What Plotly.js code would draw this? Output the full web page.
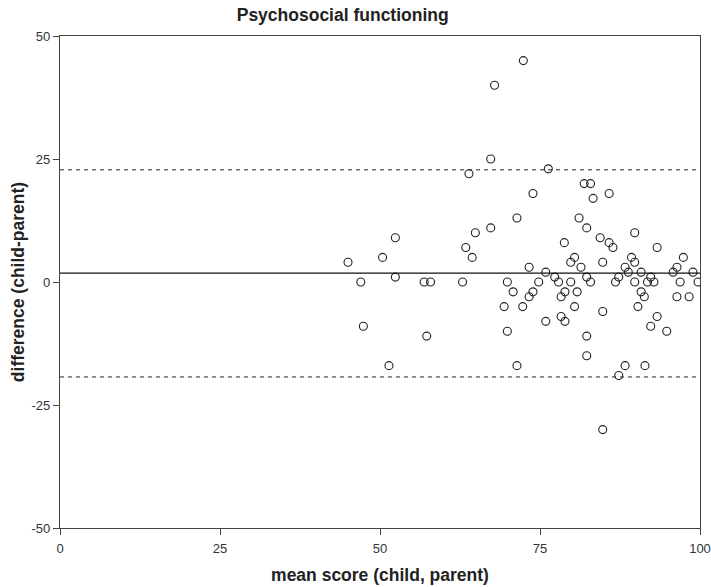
<!DOCTYPE html>
<html>
<head>
<meta charset="utf-8">
<script src="https://cdn.plot.ly/plotly-3.0.1.min.js"></script>
<style>html,body{margin:0;padding:0;background:#fff;}#chart{width:711px;height:587px;}</style>
</head>
<body>
<div id="chart"></div>
<script>
// mean score (child, parent)
const meanScore = [
  45, 47, 47.4, 50.4, 52.4, 52.4, 51.4, 56.9, 57.9, 57.3,
  62.9, 63.4, 63.9, 64.4, 64.9, 67.3, 67.3, 67.9, 72.4, 71.4,
  73.9, 76.3, 69.9, 70.8, 69.4, 69.9, 71.4, 72.3, 73.3, 73.9,
  73.3, 74.8, 75.9, 75.9, 77.3, 77.9, 78.8, 79.8, 80.4, 79.8,
  78.9, 78.3, 80.4, 78.3, 78.9, 80.8, 81.1, 81.4, 81.9, 82.9,
  83.3, 85.8, 82.3, 84.4, 85.8, 86.4, 89.8, 93.3, 84.8, 89.3,
  89.8, 88.3, 88.8, 87.3, 86.8, 90.8, 89.8, 92.3, 91.8, 92.8,
  97.4, 96.4, 95.8, 98.9, 96.9, 99.7, 82.3, 82.9, 84.8, 90.8,
  91.3, 90.3, 93.3, 92.3, 94.8, 96.4, 98.3, 82.3, 82.3, 88.3,
  91.4, 87.3, 84.8
];
// difference (child-parent)
const difference = [
  4, 0, -9, 5, 9, 1, -17, 0, 0, -11,
  0, 7, 22, 5, 10, 11, 25, 40, 45, 13,
  18, 23, 0, -2, -5, -10, -17, -5, 3, -2,
  -3, 0, 2, -8, 1, 0, 8, 4, 5, 0,
  -2, -3, -5, -7, -8, -2, 13, 3, 20, 20,
  17, 18, 11, 9, 8, 7, 10, 7, 4, 5,
  4, 3, 2, 1, 0, 2, 0, 1, 0, 0,
  5, 3, 2, 2, 0, 0, 1, 0, -6, -2,
  -3, -5, -7, -9, -10, -3, -3, -11, -15, -17,
  -17, -19, -30
];
const meanDiff = 1.8;
const upperLimit = 22.8;
const lowerLimit = -19.3;
const xTicks = [0, 25, 50, 75, 100];
const yTicks = [-50, -25, 0, 25, 50];

const font = "Liberation Sans, Arial, sans-serif";
const tickFont = "Liberation Sans Narrow, Arial Narrow, Liberation Sans, sans-serif";
const data = [{
  type: 'scatter', mode: 'markers',
  x: meanScore, y: difference,
  marker: {symbol: 'circle-open', size: 8, color: '#222', line: {width: 1.1, color: '#222'}},
  hoverinfo: 'x+y'
}];
const layout = {
  width: 711, height: 587,
  margin: {l: 60, r: 11, t: 36, b: 59},
  paper_bgcolor: '#fff', plot_bgcolor: '#fff',
  showlegend: false,
  title: {text: 'Psychosocial functioning', x: 0.482, xanchor: 'center', y: 0.975, yanchor: 'middle',
          font: {family: font, size: 17.5, color: '#222', weight: 'bold'}},
  xaxis: {
    range: [0, 100], tickvals: xTicks, ticktext: xTicks.map(String),
    showgrid: false, zeroline: false, showline: true, mirror: true,
    linecolor: '#444', linewidth: 1.2, ticks: 'outside', ticklen: 6, tickcolor: '#444',
    ticklabelstandoff: 2,
    tickfont: {family: tickFont, size: 13, color: '#333'},
    title: {text: 'mean score (child, parent)', standoff: 14, font: {family: font, size: 17.5, color: '#222', weight: 'bold'}},
    automargin: false
  },
  yaxis: {
    range: [-50, 50], tickvals: yTicks, ticktext: yTicks.map(String),
    showgrid: false, zeroline: false, showline: true, mirror: true,
    linecolor: '#444', linewidth: 1.2, ticks: 'outside', ticklen: 6, tickcolor: '#444',
    tickfont: {family: tickFont, size: 13, color: '#333'},
    title: {text: 'difference (child-parent)', standoff: 2, font: {family: font, size: 17.5, color: '#222', weight: 'bold'}},
    automargin: false
  },
  shapes: [
    {type: 'line', xref: 'paper', yref: 'y', x0: 0, x1: 1, y0: meanDiff, y1: meanDiff, line: {color: '#111', width: 1.2}},
    {type: 'line', xref: 'paper', yref: 'y', x0: 0, x1: 1, y0: upperLimit, y1: upperLimit, line: {color: '#222', width: 1, dash: '4px,4px'}},
    {type: 'line', xref: 'paper', yref: 'y', x0: 0, x1: 1, y0: lowerLimit, y1: lowerLimit, line: {color: '#222', width: 1, dash: '4px,4px'}}
  ]
};
Plotly.newPlot('chart', data, layout, {displayModeBar: false, staticPlot: true});
</script>
</body>
</html>
